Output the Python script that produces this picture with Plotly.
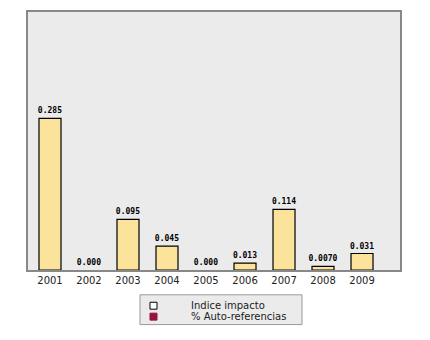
import plotly.graph_objects as go

years = ["2001", "2002", "2003", "2004", "2005", "2006", "2007", "2008", "2009"]
impact = [0.285, 0.0, 0.095, 0.045, 0.0, 0.013, 0.114, 0.007, 0.031]
labels = ["0.285", "0.000", "0.095", "0.045", "0.000", "0.013", "0.114", "0.0070", "0.031"]
legend_names = ["Indice impacto", "% Auto-referencias"]
legend_fills = ["white", "#99113f"]
legend_lines = ["black", "#99113f"]

# plot area in pixels: x 28..400, y 10..270
PL, PR, PT, PB = 28, 400, 10, 270
def px(x):
    return (x - PL) / (PR - PL)
def py(y):
    return (PB - y) / (PB - PT)

fig = go.Figure()
fig.add_trace(go.Bar(
    x=years, y=impact, text=labels, textposition="outside",
    textfont=dict(family="DejaVu Sans Mono", size=8, color="black", weight="bold"),
    marker=dict(color="#fce39c",
                line=dict(color="black", width=[1.2 if v > 0 else 0 for v in impact])),
    showlegend=False, cliponaxis=False, hoverinfo="skip",
))

shapes = [dict(type="rect", xref="paper", yref="paper",
               x0=px(140), x1=px(302), y0=py(325), y1=py(295),
               fillcolor="#ebebeb", line=dict(color="#999", width=1), layer="below")]
annotations = []
rows = [306, 317]
for name, fc, lc, ry in zip(legend_names, legend_fills, legend_lines, rows):
    shapes.append(dict(type="rect", xref="paper", yref="paper",
                       x0=px(150), x1=px(157), y0=py(ry + 3.5), y1=py(ry - 3.5),
                       fillcolor=fc, line=dict(color=lc, width=1)))
    annotations.append(dict(xref="paper", yref="paper", x=px(189), y=py(ry),
                            xanchor="left", yanchor="middle", showarrow=False,
                            text=name, font=dict(family="DejaVu Sans", size=10, color="#222")))

fig.update_layout(
    width=430, height=340,
    margin=dict(l=PL, r=430 - PR, t=PT, b=340 - PB),
    paper_bgcolor="white", plot_bgcolor="#ebebeb",
    bargap=0.436, showlegend=False,
    uniformtext=dict(mode="show", minsize=8),
    font=dict(family="DejaVu Sans", size=10, color="#222"),
    shapes=shapes, annotations=annotations,
)
fig.update_xaxes(
    type="category", range=[-0.564, 8.974],
    showline=True, linecolor="#888", linewidth=2, mirror=True,
    ticks="", showgrid=False, tickfont=dict(size=10, color="#222"),
)
fig.update_yaxes(
    range=[0, 0.485], showline=True, linecolor="#888", linewidth=2, mirror=True,
    showticklabels=False, ticks="", showgrid=False, zeroline=False,
)

fig.write_html("out.html")
